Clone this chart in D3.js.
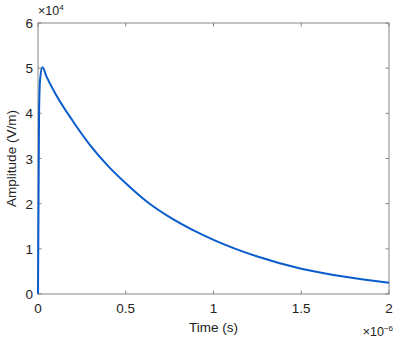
<!DOCTYPE html>
<html>
<head>
<meta charset="utf-8">
<script src="https://cdn.jsdelivr.net/npm/d3@7"></script>
<style>
  body { margin: 0; background: #fff; }
  svg { display: block; font-family: "Liberation Sans", Arial, sans-serif; }
</style>
</head>
<body>
<svg id="chart" width="401" height="339"></svg>
<script>
// time in units of 1e-6 s, amplitude in units of 1e4 V/m
var times = [0, 0.006, 0.012, 0.025, 0.05, 0.1, 0.2, 0.3, 0.4, 0.5, 0.625, 0.75, 0.875, 1.0, 1.25, 1.5, 1.75, 2.0];
var amps  = [0, 4.0, 4.75, 5.02, 4.80, 4.43, 3.82, 3.28, 2.83, 2.45, 2.03, 1.70, 1.43, 1.20, 0.83, 0.56, 0.38, 0.25];
var xTicks = [0, 0.5, 1, 1.5, 2];
var yTicks = [0, 1, 2, 3, 4, 5, 6];

var svg = d3.select('#chart');
// note: "top" is reserved on window, so use pl/pr/pt/pb
var pl = 38, pr = 389, pt = 23, pb = 294;
var axisCol = '#858585', textCol = '#222';

var x = d3.scaleLinear().domain([0, 2]).range([pl, pr]);
var y = d3.scaleLinear().domain([0, 6]).range([pb, pt]);

var data = times.map(function(t, i) { return {t: t, v: amps[i]}; });

// box
svg.append('rect')
    .attr('x', pl).attr('y', pt)
    .attr('width', pr - pl).attr('height', pb - pt)
    .attr('fill', 'none').attr('stroke', axisCol).attr('stroke-width', 1);

// ticks (inside, on all four sides)
var tl = 3.5;
xTicks.forEach(function(d) {
  svg.append('line').attr('x1', x(d)).attr('x2', x(d)).attr('y1', pb).attr('y2', pb - tl).attr('stroke', axisCol);
  svg.append('line').attr('x1', x(d)).attr('x2', x(d)).attr('y1', pt).attr('y2', pt + tl).attr('stroke', axisCol);
  svg.append('text').attr('x', x(d)).attr('y', pb + 19)
      .attr('text-anchor', 'middle').attr('font-size', 13.5).attr('fill', textCol).text(d);
});
yTicks.forEach(function(d) {
  svg.append('line').attr('x1', pl).attr('x2', pl + tl).attr('y1', y(d)).attr('y2', y(d)).attr('stroke', axisCol);
  svg.append('line').attr('x1', pr).attr('x2', pr - tl).attr('y1', y(d)).attr('y2', y(d)).attr('stroke', axisCol);
  svg.append('text').attr('x', pl - 5).attr('y', y(d) + 5)
      .attr('text-anchor', 'end').attr('font-size', 13.5).attr('fill', textCol).text(d);
});

// the curve
var line = d3.line()
    .x(function(d) { return x(d.t); })
    .y(function(d) { return y(d.v); })
    .curve(d3.curveMonotoneX);

svg.append('path')
    .attr('d', line(data))
    .attr('fill', 'none')
    .attr('stroke', '#0a5ccc')
    .attr('stroke-width', 2);

// labels
svg.append('text').attr('x', (pl + pr) / 2).attr('y', 332)
    .attr('text-anchor', 'middle').attr('font-size', 13.5).attr('fill', textCol).text('Time (s)');

svg.append('text').attr('transform', 'translate(16,' + ((pt + pb) / 2) + ') rotate(-90)')
    .attr('text-anchor', 'middle').attr('font-size', 13.5).attr('fill', textCol).text('Amplitude (V/m)');

// exponent markers
var e1 = svg.append('text').attr('x', pl).attr('y', 15).attr('font-size', 12.5).attr('fill', textCol);
e1.append('tspan').text('\u00d710');
e1.append('tspan').attr('font-size', 8).attr('dy', -5).text('4');

var e2 = svg.append('text').attr('x', pr + 4).attr('y', 336).attr('text-anchor', 'end').attr('font-size', 12.5).attr('fill', textCol);
e2.append('tspan').text('\u00d710');
e2.append('tspan').attr('font-size', 8).attr('dy', -5).text('\u22126');
</script>
</body>
</html>
